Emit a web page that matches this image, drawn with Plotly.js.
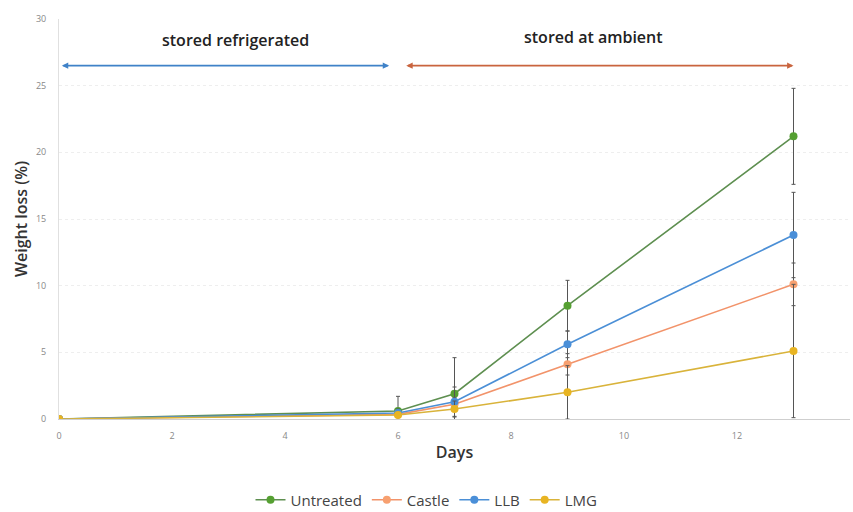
<!DOCTYPE html>
<html><head><meta charset="utf-8">
<script src="https://cdn.plot.ly/plotly-3.0.1.min.js"></script>
<style>html,body{margin:0;padding:0;background:#fff}#chart{width:853px;height:512px}</style>
</head><body><div id="chart"></div>
<script>
const days = [0, 6, 7, 9, 13];
const untreated = [0, 0.6, 1.9, 8.5, 21.2];
const untreatedErr = [0, 1.1, 2.7, 1.9, 3.6];
const castle = [0, 0.35, 1.1, 4.1, 10.1];
const castleErr = [0, 0.2, 0.5, 0.8, 1.6];
const llb = [0, 0.45, 1.3, 5.6, 13.8];
const llbErr = [0, 0.3, 1.1, 1.0, 3.2];
const lmg = [0, 0.3, 0.75, 2.0, 5.1];
const lmgErr = [0, 0.2, 0.6, 2.0, 5.0];
const seriesNames = ['Untreated', 'Castle', 'LLB', 'LMG'];

function tr(name, y, err, line, mk) {
  return {
    x: days, y: y, name: name, type: 'scatter', mode: 'lines+markers',
    line: {color: line, width: 1.6},
    marker: {color: mk, size: 8},
    error_y: {type: 'data', array: err, visible: true, color: '#555555', thickness: 1, width: 2}
  };
}
const data = [
  tr(seriesNames[0], untreated, untreatedErr, '#5e8f50', '#55a032'),
  tr(seriesNames[1], castle, castleErr, '#f2936a', '#f7a070'),
  tr(seriesNames[2], llb, llbErr, '#4b8fd6', '#4a8fd8'),
  tr(seriesNames[3], lmg, lmgErr, '#d9b33a', '#e8b422')
];
const layout = {
  width: 853, height: 512,
  margin: {l: 59, r: 3, t: 19, b: 93},
  font: {family: '"Open Sans", Lato, sans-serif', color: '#333'},
  paper_bgcolor: '#fff', plot_bgcolor: '#fff',
  showlegend: true,
  legend: {orientation: 'h', xref: 'container', yref: 'container', x: 0.5, xanchor: 'center',
    y: 0.0234, yanchor: 'middle',
    font: {size: 15, color: '#444', weight: 500}, traceorder: 'normal', itemwidth: 30},
  xaxis: {range: [0, 14], dtick: 2, showgrid: false, zeroline: false, automargin: false,
    showline: true, linecolor: '#cfcfcf', linewidth: 1,
    ticks: '', ticklabelstandoff: 8, tickfont: {size: 9, color: '#888'},
    title: {text: 'Days', font: {size: 16, color: '#333', weight: 600}, standoff: 6}},
  yaxis: {range: [0, 30], dtick: 5, showgrid: true, gridcolor: '#eeeeee', griddash: 'dot',
    zeroline: false, showline: true, linecolor: '#e0e0e0', linewidth: 1, automargin: false,
    ticks: '', ticklabelstandoff: 10, tickfont: {size: 9, color: '#888'},
    title: {text: 'Weight loss (%)', font: {size: 16, color: '#333', weight: 600}, standoff: 4}},
  annotations: [
    {x: 0.05, y: 26.5, ax: 5.87, ay: 26.5, axref: 'x', ayref: 'y', xref: 'x', yref: 'y',
      text: '', showarrow: true, arrowhead: 2, startarrowhead: 2, arrowside: 'end+start',
      arrowsize: 0.8, arrowwidth: 1.6, arrowcolor: '#3f82c8'},
    {x: 13.0, y: 26.5, ax: 6.12, ay: 26.5, axref: 'x', ayref: 'y', xref: 'x', yref: 'y',
      text: '', showarrow: true, arrowhead: 2, startarrowhead: 2, arrowside: 'end+start',
      arrowsize: 0.8, arrowwidth: 1.6, arrowcolor: '#c9643e'},
    {x: 3.12, y: 28.4, xref: 'x', yref: 'y', text: 'stored refrigerated', showarrow: false,
      font: {size: 16, color: '#222', weight: 600}},
    {x: 9.46, y: 28.65, xref: 'x', yref: 'y', text: 'stored at ambient', showarrow: false,
      font: {size: 16, color: '#222', weight: 600}}
  ]
};
Plotly.newPlot('chart', data, layout, {displayModeBar: false, staticPlot: true});
</script></body></html>
